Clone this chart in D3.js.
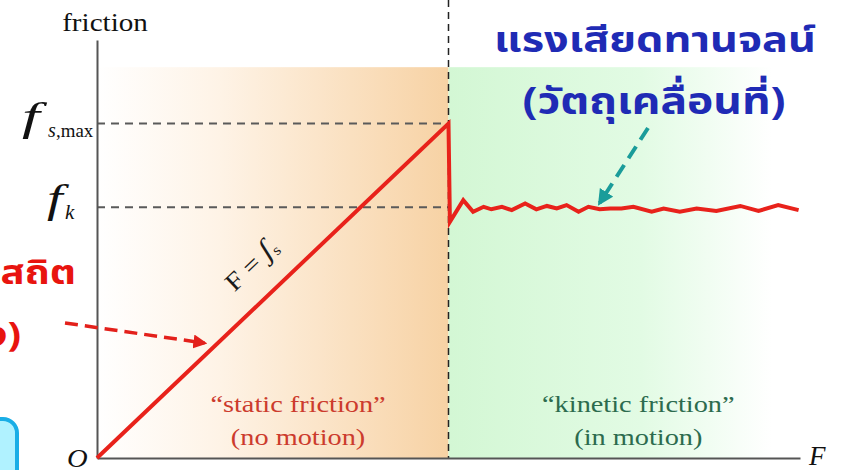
<!DOCTYPE html>
<html>
<head>
<meta charset="utf-8">
<script src="https://cdn.jsdelivr.net/npm/d3@7"></script>
<style>
  body { margin: 0; background: #fff; }
  svg { display: block; }
</style>
</head>
<body>
<div id="chart"></div>
<script>
'use strict';

// values (F and friction both on a 0..100 scale)
const fsMax = 80;
const fk = 60;
const breakF = 50;          // where the block starts to move
const bandTop = 93.5;       // top of the shaded bands

const staticF = [0, 50];
const staticFriction = [0, 80];

const kineticF = [50.2, 52.1, 53.5, 55.0, 56.1, 57.6, 59.0, 60.9, 62.5, 64.0, 65.4, 66.8, 68.5,
    69.9, 71.5, 73.0, 74.6, 76.3, 78.9, 80.6, 82.9, 85.3, 88.1, 91.5, 94.1, 96.9, 99.8];
const kineticFriction = [56.5, 61.7, 58.9, 60.1, 59.5, 60.1, 59.3, 60.9, 59.5, 60.3, 59.7, 60.5, 58.9,
    60.1, 59.5, 59.7, 59.7, 60.1, 58.9, 59.7, 58.9, 59.7, 59.1, 60.3, 59.1, 60.5, 59.3];

const width = 844;
const height = 470;
const margin = { top: 40, right: 44, bottom: 12, left: 97 };

const svg = d3.select('#chart')
    .append('svg')
    .attr('width', width)
    .attr('height', height);

const x = d3.scaleLinear().domain([0, 100]).range([margin.left, width - margin.right]);
const y = d3.scaleLinear().domain([0, 100]).range([height - margin.bottom, margin.top]);

const serif = '"Liberation Serif", "Times New Roman", serif';
const thai = '"Noto Sans Thai", "Noto Sans", "DejaVu Sans", sans-serif';

const defs = svg.append('defs');

const orange = defs.append('linearGradient').attr('id', 'orange');
orange.append('stop').attr('offset', 0).attr('stop-color', '#ffffff');
orange.append('stop').attr('offset', 0.35).attr('stop-color', '#fef3e6');
orange.append('stop').attr('offset', 1).attr('stop-color', '#f7d2a4');

const green = defs.append('linearGradient').attr('id', 'green');
green.append('stop').attr('offset', 0).attr('stop-color', '#d3f7d4');
green.append('stop').attr('offset', 0.55).attr('stop-color', '#e2fbe4');
green.append('stop').attr('offset', 0.92).attr('stop-color', '#ffffff');

function marker(id, color) {
    defs.append('marker')
        .attr('id', id)
        .attr('viewBox', '0 0 10 10')
        .attr('refX', 8).attr('refY', 5)
        .attr('markerWidth', 4).attr('markerHeight', 4)
        .attr('orient', 'auto')
        .append('path')
        .attr('d', 'M0,0L10,5L0,10z')
        .attr('fill', color);
}
marker('arrowRed', '#e3201b');
marker('arrowTeal', '#1a9c9a');

// shaded bands
svg.append('rect')
    .attr('x', x(0)).attr('y', y(bandTop))
    .attr('width', x(breakF) - x(0)).attr('height', y(0) - y(bandTop))
    .attr('fill', 'url(#orange)');
svg.append('rect')
    .attr('x', x(breakF)).attr('y', y(bandTop))
    .attr('width', x(100) - x(breakF)).attr('height', y(0) - y(bandTop))
    .attr('fill', 'url(#green)');

// reference dashes
svg.append('g')
    .selectAll('line')
    .data([fsMax, fk])
    .join('line')
    .attr('x1', x(0)).attr('x2', x(breakF))
    .attr('y1', d => y(d)).attr('y2', d => y(d))
    .attr('stroke', '#5a5a5a')
    .attr('stroke-width', 2)
    .attr('stroke-dasharray', '8,6');

svg.append('line')
    .attr('x1', x(breakF)).attr('x2', x(breakF))
    .attr('y1', 0).attr('y2', y(0))
    .attr('stroke', '#222')
    .attr('stroke-width', 1.5)
    .attr('stroke-dasharray', '7,5');

// axes
svg.append('g')
    .attr('transform', `translate(${x(0)},0)`)
    .call(d3.axisLeft(y).tickValues([]).tickSizeOuter(0))
    .call(g => g.select('.domain').attr('stroke', '#555').attr('stroke-width', 2));
svg.append('g')
    .attr('transform', `translate(0,${y(0)})`)
    .call(d3.axisBottom(x).tickValues([]).tickSizeOuter(0))
    .call(g => g.select('.domain').attr('stroke', '#555').attr('stroke-width', 2));

// friction curve
const pts = staticF.map((f, i) => [f, staticFriction[i]])
    .concat(kineticF.map((f, i) => [f, kineticFriction[i]]));
const line = d3.line().x(d => x(d[0])).y(d => y(d[1]));
svg.append('path')
    .attr('d', line(pts))
    .attr('fill', 'none')
    .attr('stroke', '#e8221b')
    .attr('stroke-width', 4)
    .attr('stroke-linejoin', 'miter');

// text helper with a slight horizontal stretch like the original
function label(px, py, str, opts) {
    return svg.append('text')
        .attr('transform', `translate(${px},${py}) scale(${opts.sx || 1},1)`)
        .attr('font-family', opts.family || serif)
        .attr('font-size', opts.size)
        .attr('font-style', opts.italic ? 'italic' : null)
        .attr('font-weight', opts.bold ? 'bold' : null)
        .attr('text-anchor', opts.anchor || 'start')
        .attr('fill', opts.color || '#111')
        .text(str);
}

label(105, 31, 'friction', { size: 26, sx: 1.12, anchor: 'middle' });
label(x(100) + 9, 465, 'F', { size: 27, italic: true });
label(67, 467, 'O', { size: 26, italic: true, sx: 1.1 });

// f_s,max
label(22, y(fsMax) + 6, 'f', { size: 40, italic: true, sx: 1.6 });
label(48, y(fsMax) + 13, 's', { size: 20, italic: true });
label(56, y(fsMax) + 13, ',max', { size: 18, sx: 1.05 });
// f_k
label(47, y(fk) + 5, 'f', { size: 40, italic: true, sx: 1.4 });
label(65, y(fk) + 12, 'k', { size: 21, italic: true });

// F = f_s written along the rising line
const ang = Math.atan2(y(staticFriction[1]) - y(0), x(staticF[1]) - x(0)) * 180 / Math.PI;
const eq = svg.append('text')
    .attr('transform', `translate(${x(22.8)},${y(44.8)}) rotate(${ang}) scale(1.15,1)`)
    .attr('font-family', serif)
    .attr('font-size', 25)
    .attr('fill', '#1a1a1a')
    .attr('text-anchor', 'middle');
eq.append('tspan').text('F = ');
eq.append('tspan').attr('font-style', 'italic').attr('font-size', 29).text('ʃ');
eq.append('tspan').attr('font-size', 15).attr('dy', 3).text('s');

// region captions
label(x(28.6), 412, '\u201cstatic friction\u201d', { size: 24, sx: 1.18, anchor: 'middle', color: '#cc3b2d' });
label(x(28.6), 445, '(no motion)', { size: 24, sx: 1.18, anchor: 'middle', color: '#cc3b2d' });
label(x(77), 412, '\u201ckinetic friction\u201d', { size: 24, sx: 1.18, anchor: 'middle', color: '#2c6b4e' });
label(x(77), 445, '(in motion)', { size: 24, sx: 1.18, anchor: 'middle', color: '#2c6b4e' });

// Thai annotations
label(655, 52, 'แรงเสียดทานจลน์', { family: thai, size: 36, sx: 1.2, bold: true, anchor: 'middle', color: '#1f2bb5' });
label(654, 114, '(วัตถุเคลื่อนที่)', { family: thai, size: 37, sx: 1.2, bold: true, anchor: 'middle', color: '#1f2bb5' });
label(76, 284, 'สถิต', { family: thai, size: 34, sx: 1.18, bold: true, anchor: 'end', color: '#e8140f' });
label(21, 346, '(วัตถุหยุดนิ่ง)', { family: thai, size: 34, sx: 1.18, bold: true, anchor: 'end', color: '#e8140f' });

// callout box peeking in from the left edge
svg.append('rect')
    .attr('x', -40).attr('y', 419)
    .attr('width', 57).attr('height', 90)
    .attr('rx', 14)
    .attr('fill', '#b0f2ff')
    .attr('stroke', '#1aaee6')
    .attr('stroke-width', 4);

// dashed pointer arrows
svg.append('line')
    .attr('x1', 65).attr('y1', 323)
    .attr('x2', x(15.3)).attr('y2', y(27.5))
    .attr('stroke', '#e3201b')
    .attr('stroke-width', 3.5)
    .attr('stroke-dasharray', '13,7')
    .attr('marker-end', 'url(#arrowRed)');
svg.append('line')
    .attr('x1', 648).attr('y1', 128)
    .attr('x2', x(71.5)).attr('y2', y(61))
    .attr('stroke', '#1a9c9a')
    .attr('stroke-width', 4)
    .attr('stroke-dasharray', '14,8')
    .attr('marker-end', 'url(#arrowTeal)');
</script>
</body>
</html>
